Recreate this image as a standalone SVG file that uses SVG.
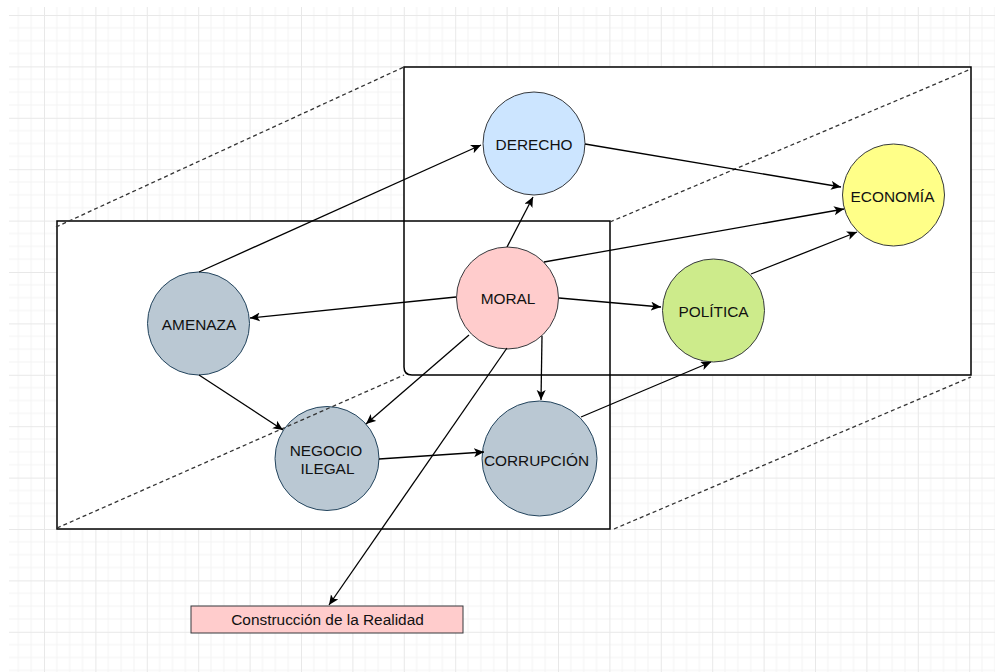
<svg xmlns="http://www.w3.org/2000/svg" width="995" height="672" viewBox="0 0 995 672">
<style>
.node ellipse{stroke-width:1}
.lbl{font-family:"Liberation Sans",Arial,Helvetica,sans-serif;font-size:15.4px;fill:#111;text-anchor:middle}
.edge{fill:none;stroke:#000;stroke-width:1.3;marker-end:url(#arr)}
.box{fill:none;stroke:#000;stroke-width:1.5}
.fillw{fill:#fff;stroke:none}
.dash{fill:none;stroke:#333;stroke-width:1.3;stroke-dasharray:4 3}
</style>
<defs>
<pattern id="grid" patternUnits="userSpaceOnUse" x="44" y="15" width="51.4" height="51.4">
<path d="M12.85 0V51.4M25.7 0V51.4M38.55 0V51.4M0 12.85H51.4M0 25.7H51.4M0 38.55H51.4" stroke="#f4f4f4" stroke-width="1" fill="none"/>
<path d="M0.5 0V51.4M0 0.5H51.4" stroke="#e8e8e8" stroke-width="1" fill="none"/>
</pattern>
<marker id="arr" markerUnits="userSpaceOnUse" markerWidth="12" markerHeight="10" refX="10" refY="4.5" orient="auto">
<path d="M0,0 L10,4.5 L0,9 L2.5,4.5 Z" fill="#000"/>
</marker>
</defs>
<rect width="995" height="672" fill="#fff"/>
<rect x="9" y="7" width="986" height="665" fill="url(#grid)"/>

<g id="cube">
<path class="fillw" d="M404,67 H971 V375 H412 Q404,375 404,367 Z"/>
<rect class="fillw" x="57" y="221" width="553" height="308"/>
<path class="box" d="M404,67 H971 V375 H412 Q404,375 404,367 Z"/>
<rect class="box" x="57" y="221" width="553" height="308"/>
</g>

<g id="derecho" class="node"><ellipse cx="534" cy="143.5" rx="51" ry="51.5" fill="#cce5ff" stroke="#36393d"/><text class="lbl" x="534" y="150">DERECHO</text></g>
<g id="economia" class="node"><ellipse cx="893.5" cy="195" rx="51" ry="51" fill="#ffff88" stroke="#36393d"/><text class="lbl" x="892.5" y="202">ECONOMÍA</text></g>
<g id="moral" class="node"><ellipse cx="507.5" cy="298" rx="51" ry="51" fill="#ffcccc" stroke="#36393d"/><text class="lbl" x="508" y="304">MORAL</text></g>
<g id="politica" class="node"><ellipse cx="713.5" cy="310.5" rx="51" ry="51.5" fill="#cdeb8b" stroke="#36393d"/><text class="lbl" x="713.5" y="317">POLÍTICA</text></g>
<g id="amenaza" class="node"><ellipse cx="198.5" cy="323.5" rx="51" ry="51.5" fill="#bac8d3" stroke="#23445d"/><text class="lbl" x="199" y="330">AMENAZA</text></g>
<g id="negocio" class="node"><ellipse cx="327" cy="458.5" rx="52" ry="52" fill="#bac8d3" stroke="#23445d"/><text class="lbl" x="326" y="456">NEGOCIO</text><text class="lbl" x="327.5" y="474">ILEGAL</text></g>
<g id="corrupcion" class="node"><ellipse cx="539.5" cy="458.5" rx="57.5" ry="57.5" fill="#bac8d3" stroke="#23445d"/><text class="lbl" x="536.5" y="466">CORRUPCIÓN</text></g>
<g id="realidad" class="node"><rect x="191" y="606" width="272" height="27" fill="#ffcccc" stroke="#36393d" stroke-width="1"/><text class="lbl" x="327.5" y="625">Construcción de la Realidad</text></g>

<g id="cube-edges">
<line class="dash" x1="56" y1="227" x2="404" y2="67"/>
<line class="dash" x1="610" y1="222" x2="971" y2="69"/>
<line class="dash" x1="57" y1="528" x2="404" y2="375"/>
<line class="dash" x1="614" y1="529" x2="971" y2="377"/>
</g>

<g id="connectors">
<line class="edge" x1="199" y1="272" x2="481" y2="145"/>
<line class="edge" x1="585" y1="144" x2="841" y2="187"/>
<line class="edge" x1="507" y1="247" x2="533" y2="197"/>
<line class="edge" x1="544" y1="262" x2="844" y2="209"/>
<line class="edge" x1="559" y1="298" x2="661" y2="307"/>
<line class="edge" x1="751" y1="274" x2="857" y2="232"/>
<line class="edge" x1="456" y1="297" x2="250" y2="318"/>
<line class="edge" x1="199" y1="375" x2="283" y2="430"/>
<line class="edge" x1="469" y1="335" x2="366" y2="424"/>
<line class="edge" x1="507" y1="348" x2="329" y2="605"/>
<line class="edge" x1="542" y1="336" x2="541" y2="400"/>
<line class="edge" x1="379" y1="459" x2="484" y2="452"/>
<line class="edge" x1="581" y1="417" x2="711" y2="362"/>
</g>
</svg>
